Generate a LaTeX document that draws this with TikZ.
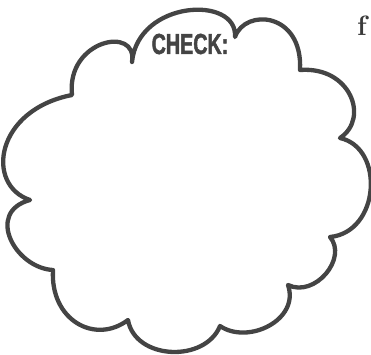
\documentclass[tikz,border=0pt]{standalone}
\usepackage{fontspec}
\usepackage{xcolor}
\usetikzlibrary{positioning}
\newfontfamily\checkfont{Liberation Sans}[FakeStretch=0.68, FakeBold=1.6]
\definecolor{cloudInk}{HTML}{444444}
\definecolor{pageInk} {HTML}{3A3A3A}

\begin{document}
\begin{tikzpicture}[x=1pt, y=-1pt,
    cloud/.style={draw=cloudInk, line width=4.3pt, line join=round},
    tag/.style={font=\checkfont\bfseries\fontsize{29}{29}\selectfont, text=cloudInk, inner sep=0pt},
  ]
  \useasboundingbox (0,0) rectangle (371,354);
  % cusps of the cloud, clockwise from the top
  \foreach \x/\y/\name in
    {132/62/c1, 235/37/c2, 300/70/c3, 340/138/c4, 330/237/c5, 288/285/c6,
     220/326/c7, 128/320/c8, 53/270/c9, 30/200/c10, 72/95/c11}{
    \coordinate (\name) at (\x,\y);
  }
  \draw[cloud] (c1)
    .. controls (138,0)   and (238,-5)  .. (c2)
    .. controls (245,8)   and (303,12)  .. (c3)
    .. controls (350,66)  and (370,118) .. (c4)
    .. controls (385,148) and (380,232) .. (c5)
    .. controls (348,258) and (315,298) .. (c6)
    .. controls (300,320) and (248,345) .. (c7)
    .. controls (205,363) and (135,360) .. (c8)
    .. controls (95,345)  and (50,320)  .. (c9)
    .. controls (15,268)  and (-15,212) .. (c10)
    .. controls (-15,185) and (-5,110)  .. (c11)
    .. controls (66,40)   and (138,25)  .. cycle;
  \node[tag] (check) at (190,44) {CHECK:};
  \node[font=\bfseries\fontsize{28}{28}\selectfont, text=pageInk, anchor=base west, inner sep=0pt]
    (edge) at (357,35) {f};
\end{tikzpicture}
\end{document}
